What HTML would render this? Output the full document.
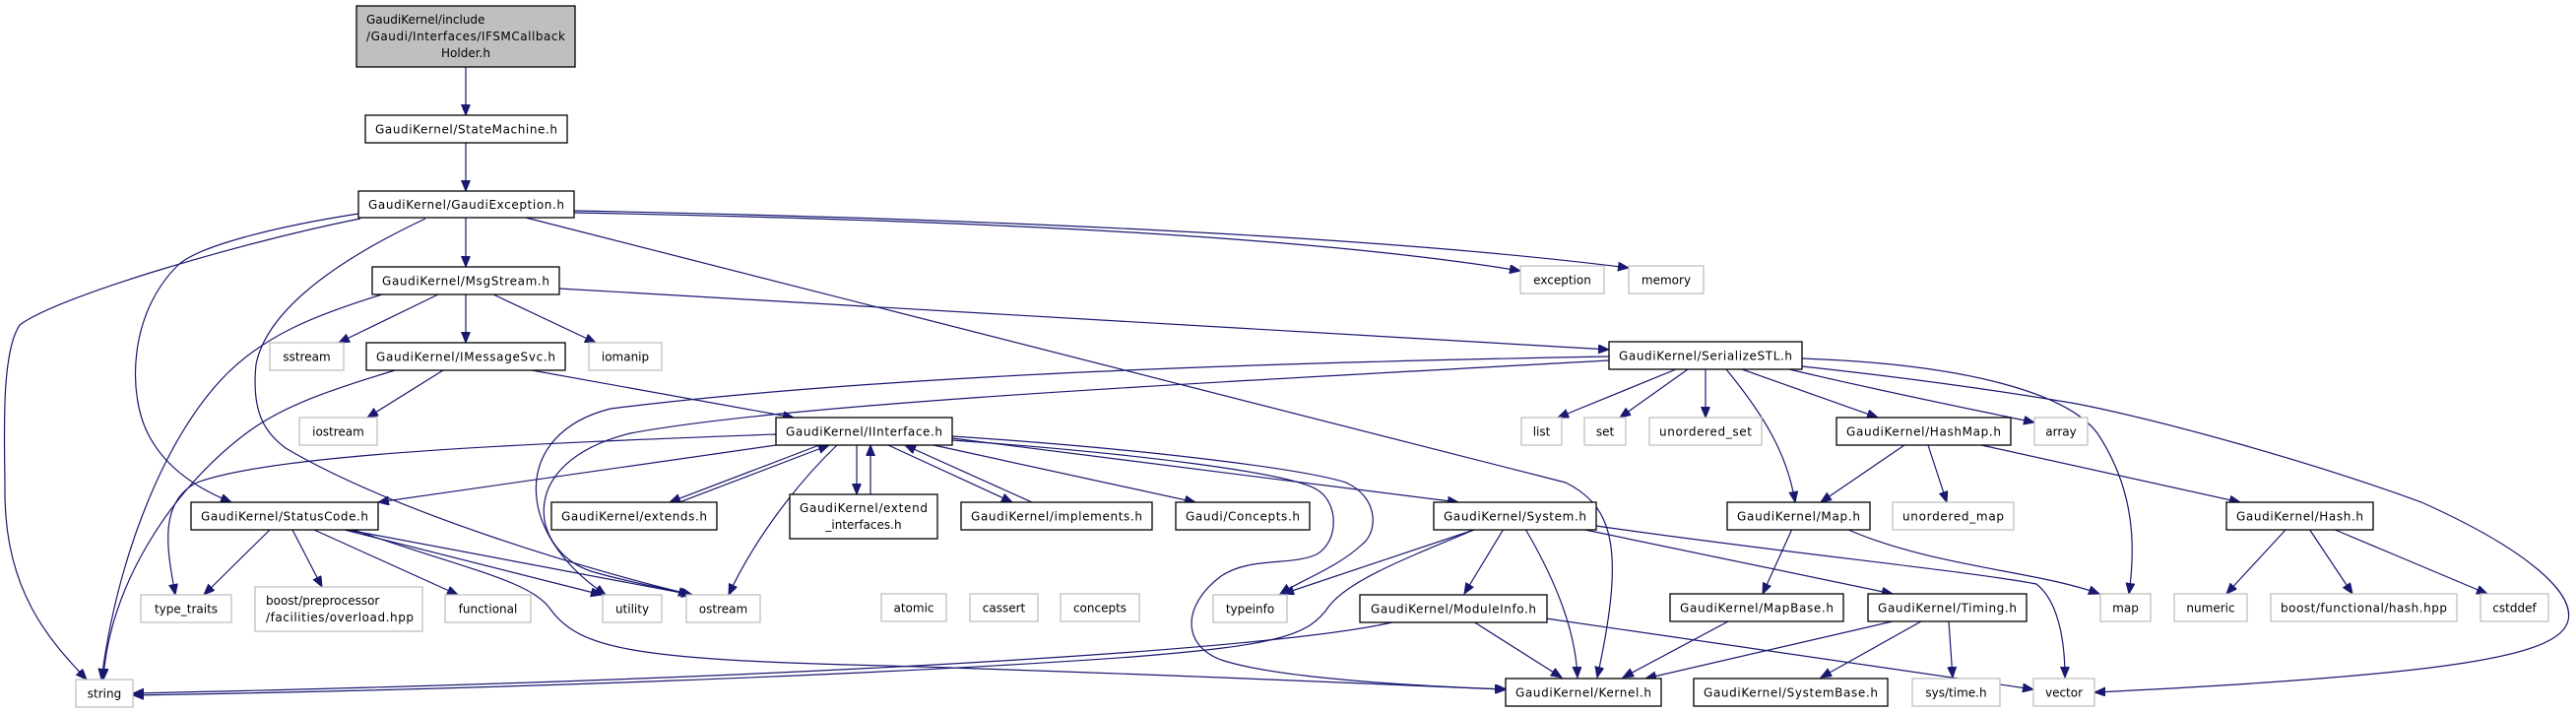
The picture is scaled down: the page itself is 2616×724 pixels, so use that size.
<!DOCTYPE html>
<html><head><meta charset="utf-8"><style>
html,body{margin:0;padding:0;background:#fff;}
svg{display:block;}
text{font-family:"DejaVu Sans","Liberation Sans",sans-serif;font-size:12px;fill:#000;}
.n{fill:#fff;stroke:#000;stroke-width:1.3;}
.g{fill:#fff;stroke:#bfbfbf;stroke-width:1.3;}
.e{fill:none;stroke:#191970;stroke-width:1.2;marker-end:url(#a);}
</style></head><body>
<svg width="2616" height="724" viewBox="0 0 2616 724" xmlns="http://www.w3.org/2000/svg">
<defs><marker id="a" markerUnits="userSpaceOnUse" markerWidth="12" markerHeight="10" refX="11" refY="4.5" orient="auto"><path d="M0,0 L11,4.5 L0,9 z" fill="#191970" stroke="#191970"/></marker></defs>
<g>
<path class="e" d="M473,68 L473,117"/>
<path class="e" d="M473,145 L473,194"/>
<path class="e" d="M473,221 L473,271"/>
<path class="e" d="M583,216 C900,222 1300,235 1544,275"/>
<path class="e" d="M583,214 C1000,222 1400,240 1654,272"/>
<path class="e" d="M366,222 C250,245 60,300 20,330 C0,360 5,450 5,500 C5,600 50,650 88,690"/>
<path class="e" d="M364,217 C280,230 200,250 180,270 C130,320 130,400 150,440 C170,480 210,500 235,510"/>
<path class="e" d="M432,222 C330,270 270,320 260,370 C255,420 270,440 290,455 C400,520 600,580 703,604"/>
<path class="e" d="M534,221 L1590,490 C1640,515 1650,560 1622,688"/>
<path class="e" d="M445,299 L344,348"/>
<path class="e" d="M473,299 L473,348"/>
<path class="e" d="M501,299 L605,348"/>
<path class="e" d="M388,299 C320,320 270,340 230,380 C170,440 120,560 103,690"/>
<path class="e" d="M568,293 L1634,355"/>
<path class="e" d="M450,376 L373,424"/>
<path class="e" d="M540,376 L806,424"/>
<path class="e" d="M401,376 C340,395 290,410 250,440 C170,500 110,600 105,690"/>
<path class="e" d="M1702,375 L1582,424"/>
<path class="e" d="M1714,375 L1645,424"/>
<path class="e" d="M1732,375 L1732,424"/>
<path class="e" d="M1753,375 C1790,420 1815,460 1823,510"/>
<path class="e" d="M1769,375 L1907,424"/>
<path class="e" d="M1817,375 C1900,395 2000,415 2066,429"/>
<path class="e" d="M1830,364 C2000,370 2100,400 2130,440 C2170,500 2168,560 2162,603"/>
<path class="e" d="M1830,372 C1950,385 2050,400 2109,410 C2200,428 2350,470 2459,510 C2560,555 2615,600 2608,630 C2600,665 2500,685 2127,703"/>
<path class="e" d="M1634,362 C1300,368 900,380 620,415 C520,440 520,540 615,604"/>
<path class="e" d="M1634,366 C1200,390 800,410 640,440 C520,470 540,560 600,580 C640,592 680,598 700,604"/>
<path class="e" d="M788,441 C550,450 280,460 200,490 C160,510 170,560 178,604"/>
<path class="e" d="M788,452 L384,510"/>
<path class="e" d="M832,452 L680,510"/>
<path class="e" d="M690,510 L842,452"/>
<path class="e" d="M870,452 L870,502"/>
<path class="e" d="M884,502 L884,452"/>
<path class="e" d="M902,452 L1028,510"/>
<path class="e" d="M1048,510 L919,452"/>
<path class="e" d="M948,452 L1214,510"/>
<path class="e" d="M967,445 L1481,510"/>
<path class="e" d="M967,443 C1150,455 1320,475 1367,490 C1400,505 1400,540 1383,553 C1360,575 1320,590 1300,603"/>
<path class="e" d="M967,447 C1150,460 1310,480 1337,497 C1360,510 1360,550 1337,563 C1310,575 1270,565 1240,585 C1200,615 1200,655 1240,670 C1300,690 1450,697 1530,700"/>
<path class="e" d="M850,452 C800,500 760,560 740,604"/>
<path class="e" d="M274,538 L207,604"/>
<path class="e" d="M297,538 L327,596"/>
<path class="e" d="M319,538 L465,604"/>
<path class="e" d="M350,538 L611,604"/>
<path class="e" d="M353,538 L703,604"/>
<path class="e" d="M359,538 C480,580 540,590 560,620 C590,660 650,670 900,676 C1200,685 1400,695 1529,700"/>
<path class="e" d="M1497,538 L1303,603"/>
<path class="e" d="M1497,538 C1420,570 1370,590 1350,615 C1330,645 1300,655 1150,667 C900,685 500,700 135,706"/>
<path class="e" d="M1527,537 L1487,603"/>
<path class="e" d="M1549,537 C1580,590 1600,640 1602,688"/>
<path class="e" d="M1605,537 L1922,603"/>
<path class="e" d="M1621,534 C1800,560 2000,580 2068,593 C2090,610 2097,650 2097,688"/>
<path class="e" d="M1418,631 C1300,660 800,690 135,704"/>
<path class="e" d="M1496,631 L1586,688"/>
<path class="e" d="M1570,628 L2065,700"/>
<path class="e" d="M1755,631 L1648,688"/>
<path class="e" d="M1922,631 L1671,689"/>
<path class="e" d="M1951,631 L1849,688"/>
<path class="e" d="M1979,631 L1983,688"/>
<path class="e" d="M1820,537 L1790,603"/>
<path class="e" d="M1875,537 C1960,575 2070,580 2132,603"/>
<path class="e" d="M1934,452 L1849,510"/>
<path class="e" d="M1958,452 L1977,510"/>
<path class="e" d="M2012,452 L2275,510"/>
<path class="e" d="M2322,537 L2261,603"/>
<path class="e" d="M2345,537 L2389,603"/>
<path class="e" d="M2369,537 L2526,603"/>
</g>
<g>
<rect x="362" y="6" width="222" height="62" fill="#bfbfbf" stroke="#000" stroke-width="1.3"/>
<text x="372" y="24">GaudiKernel/include</text>
<text x="372" y="41" textLength="202">/Gaudi/Interfaces/IFSMCallback</text>
<text x="473" y="58" text-anchor="middle">Holder.h</text>

<rect class="n" x="371" y="117" width="205" height="28"/><text x="473.5" y="135.5" text-anchor="middle" textLength="185">GaudiKernel/StateMachine.h</text>
<rect class="n" x="364" y="194" width="219" height="27"/><text x="473.5" y="212" text-anchor="middle" textLength="199">GaudiKernel/GaudiException.h</text>
<rect class="n" x="378" y="271" width="190" height="28"/><text x="473" y="289.5" text-anchor="middle" textLength="170">GaudiKernel/MsgStream.h</text>
<rect class="g" x="274" y="348" width="75" height="28"/><text x="311.5" y="366.5" text-anchor="middle">sstream</text>
<rect class="n" x="372" y="348" width="202" height="28"/><text x="473" y="366.5" text-anchor="middle" textLength="182">GaudiKernel/IMessageSvc.h</text>
<rect class="g" x="598" y="348" width="74" height="28"/><text x="635" y="366.5" text-anchor="middle">iomanip</text>
<rect class="g" x="1544" y="270" width="85" height="28"/><text x="1586.5" y="288.5" text-anchor="middle">exception</text>
<rect class="g" x="1654" y="270" width="76" height="28"/><text x="1692" y="288.5" text-anchor="middle">memory</text>
<rect class="n" x="1634" y="347" width="196" height="28"/><text x="1732" y="365.5" text-anchor="middle" textLength="176">GaudiKernel/SerializeSTL.h</text>
<rect class="g" x="304" y="424" width="79" height="28"/><text x="343.5" y="442.5" text-anchor="middle">iostream</text>
<rect class="n" x="788" y="424" width="179" height="28"/><text x="877.5" y="442.5" text-anchor="middle" textLength="159">GaudiKernel/IInterface.h</text>
<rect class="g" x="1545" y="424" width="41" height="28"/><text x="1565.5" y="442.5" text-anchor="middle">list</text>
<rect class="g" x="1609" y="424" width="42" height="28"/><text x="1630" y="442.5" text-anchor="middle">set</text>
<rect class="g" x="1675" y="424" width="114" height="28"/><text x="1732" y="442.5" text-anchor="middle" textLength="94">unordered_set</text>
<rect class="n" x="1865" y="424" width="177" height="28"/><text x="1953.5" y="442.5" text-anchor="middle" textLength="157">GaudiKernel/HashMap.h</text>
<rect class="g" x="2066" y="424" width="54" height="28"/><text x="2093" y="442.5" text-anchor="middle">array</text>
<rect class="n" x="194" y="510" width="190" height="28"/><text x="289" y="528.5" text-anchor="middle" textLength="170">GaudiKernel/StatusCode.h</text>
<rect class="n" x="560" y="510" width="168" height="28"/><text x="644" y="528.5" text-anchor="middle" textLength="148">GaudiKernel/extends.h</text>
<rect class="n" x="802" y="502" width="150" height="45"/><text x="877" y="520" text-anchor="middle" textLength="130">GaudiKernel/extend</text><text x="877" y="537" text-anchor="middle">_interfaces.h</text>
<rect class="n" x="976" y="510" width="194" height="28"/><text x="1073" y="528.5" text-anchor="middle" textLength="174">GaudiKernel/implements.h</text>
<rect class="n" x="1194" y="510" width="136" height="28"/><text x="1262" y="528.5" text-anchor="middle" textLength="116">Gaudi/Concepts.h</text>
<rect class="n" x="1456" y="510" width="165" height="28"/><text x="1538.5" y="528.5" text-anchor="middle" textLength="145">GaudiKernel/System.h</text>
<rect class="n" x="1754" y="510" width="145" height="28"/><text x="1826.5" y="528.5" text-anchor="middle" textLength="125">GaudiKernel/Map.h</text>
<rect class="g" x="1922" y="510" width="123" height="28"/><text x="1983.5" y="528.5" text-anchor="middle" textLength="103">unordered_map</text>
<rect class="n" x="2261" y="510" width="149" height="28"/><text x="2335.5" y="528.5" text-anchor="middle" textLength="129">GaudiKernel/Hash.h</text>
<rect class="g" x="143" y="604" width="92" height="28"/><text x="189" y="622.5" text-anchor="middle">type_traits</text>
<rect class="g" x="259" y="596" width="170" height="45"/><text x="270" y="614">boost/preprocessor</text><text x="270" y="631" textLength="150">/facilities/overload.hpp</text>
<rect class="g" x="452" y="604" width="87" height="28"/><text x="495.5" y="622.5" text-anchor="middle">functional</text>
<rect class="g" x="612" y="604" width="60" height="28"/><text x="642" y="622.5" text-anchor="middle">utility</text>
<rect class="g" x="697" y="604" width="75" height="28"/><text x="734.5" y="622.5" text-anchor="middle">ostream</text>
<rect class="g" x="895" y="603" width="66" height="28"/><text x="928" y="621.5" text-anchor="middle">atomic</text>
<rect class="g" x="985" y="603" width="69" height="28"/><text x="1019.5" y="621.5" text-anchor="middle">cassert</text>
<rect class="g" x="1077" y="603" width="80" height="28"/><text x="1117" y="621.5" text-anchor="middle">concepts</text>
<rect class="g" x="1232" y="604" width="75" height="28"/><text x="1269.5" y="622.5" text-anchor="middle">typeinfo</text>
<rect class="n" x="1381" y="604" width="190" height="28"/><text x="1476" y="622.5" text-anchor="middle" textLength="168">GaudiKernel/ModuleInfo.h</text>
<rect class="n" x="1696" y="603" width="176" height="28"/><text x="1784" y="621.5" text-anchor="middle" textLength="156">GaudiKernel/MapBase.h</text>
<rect class="n" x="1897" y="603" width="161" height="28"/><text x="1977.5" y="621.5" text-anchor="middle" textLength="141">GaudiKernel/Timing.h</text>
<rect class="g" x="2133" y="603" width="51" height="28"/><text x="2158.5" y="621.5" text-anchor="middle">map</text>
<rect class="g" x="2208" y="603" width="74" height="28"/><text x="2245" y="621.5" text-anchor="middle">numeric</text>
<rect class="g" x="2306" y="603" width="189" height="28"/><text x="2400.5" y="621.5" text-anchor="middle" textLength="169">boost/functional/hash.hpp</text>
<rect class="g" x="2519" y="603" width="69" height="28"/><text x="2553.5" y="621.5" text-anchor="middle">cstddef</text>
<rect class="g" x="77" y="690" width="58" height="28"/><text x="106" y="708.5" text-anchor="middle">string</text>
<rect class="n" x="1529" y="689" width="158" height="28"/><text x="1608" y="707.5" text-anchor="middle" textLength="138">GaudiKernel/Kernel.h</text>
<rect class="n" x="1720" y="689" width="197" height="28"/><text x="1818.5" y="707.5" text-anchor="middle" textLength="177">GaudiKernel/SystemBase.h</text>
<rect class="g" x="1942" y="689" width="89" height="28"/><text x="1986.5" y="707.5" text-anchor="middle">sys/time.h</text>
<rect class="g" x="2065" y="689" width="62" height="28"/><text x="2096" y="707.5" text-anchor="middle">vector</text>
</g>
</svg>
</body></html>
